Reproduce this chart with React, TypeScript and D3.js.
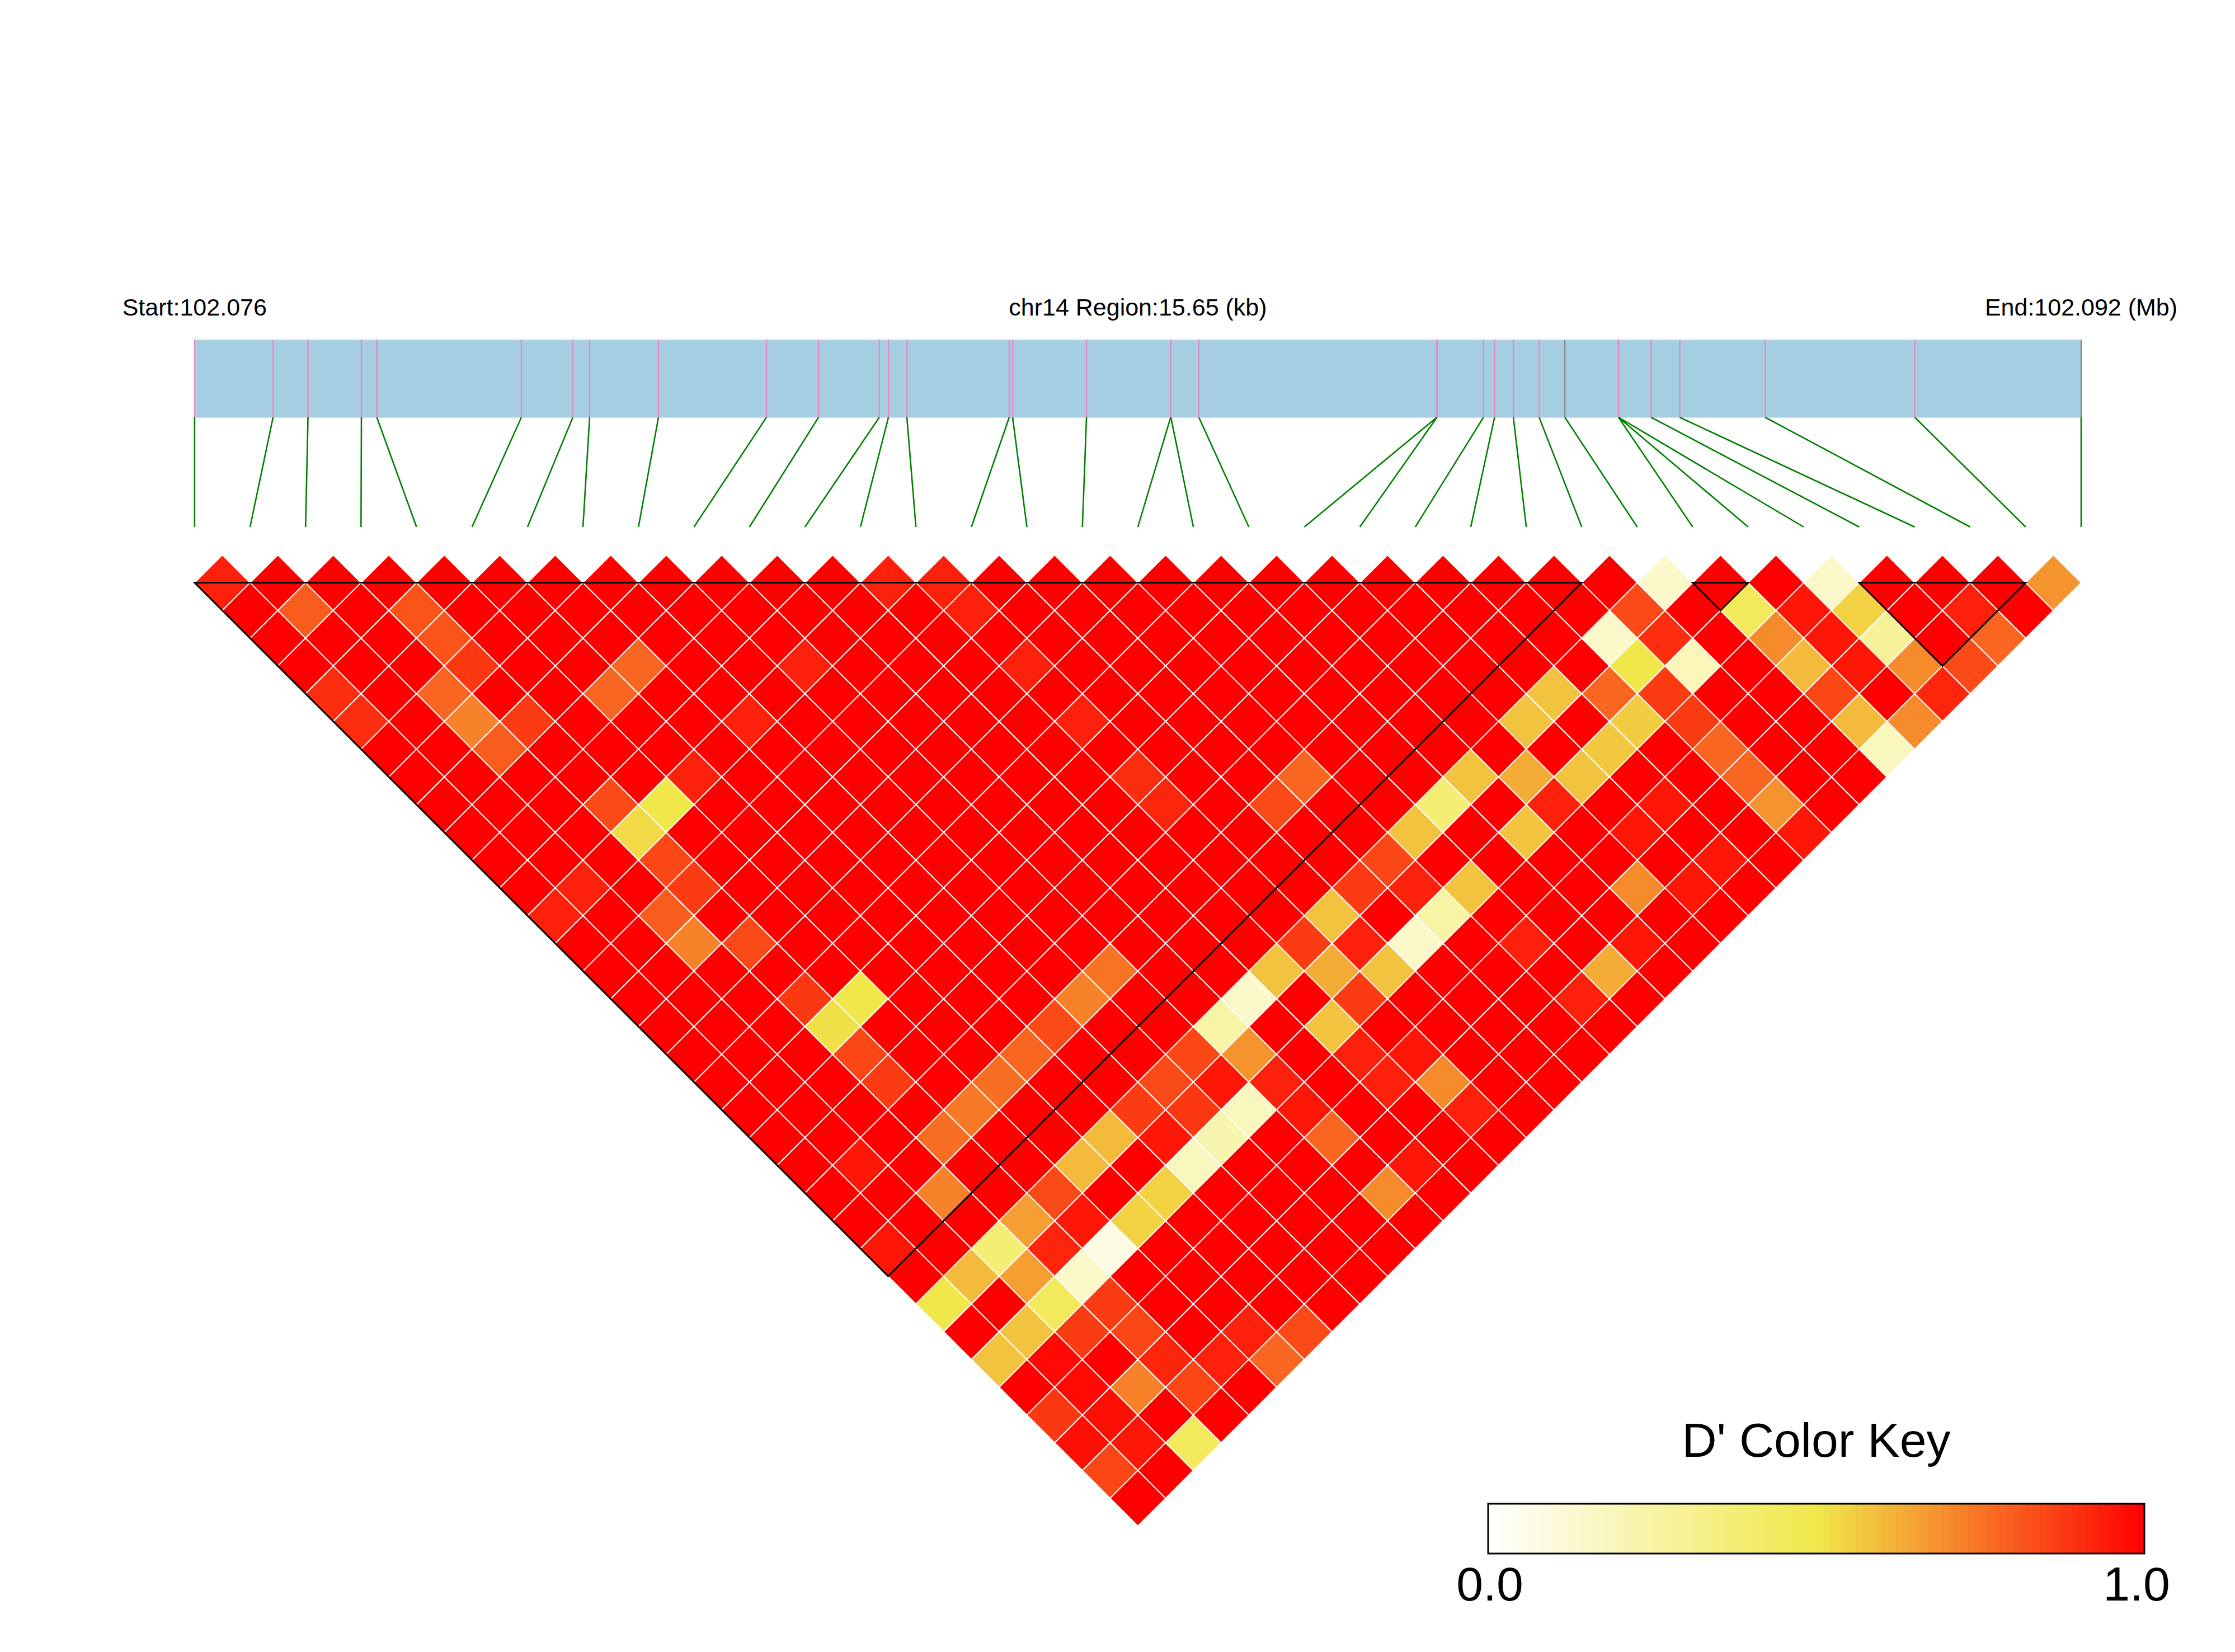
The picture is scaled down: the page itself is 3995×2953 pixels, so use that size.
import React from "react";
import * as d3 from "d3";

// ---- data ----
const chromosome = "chr14";
const regionStartBp = 102076000;
// SNP offsets (bp) from the region start
const snpOffsets = [
  0, 651, 941, 1384, 1512, 2711, 3138, 3277, 3848, 4744, 5176, 5680, 5756, 5909,
  6758, 6786, 7399, 8097, 8099, 8331, 10305, 10306, 10692, 10784, 10940, 11154,
  11367, 11812, 11812, 11813, 12083, 12320, 13029, 14270, 15650,
];
// SNP marks drawn in grey instead of pink
const greySnps = [26, 34];

// D' rows: row i holds D'(i, j) for j = i+1 .. 34
const dPrimeRows: number[][] = [
  [0.93, 1, 1, 1, 0.9, 0.9, 1, 1, 1, 1, 1, 1, 0.93, 1, 1, 1, 1, 1, 1, 1, 1, 1, 1, 1, 0.95, 1, 0.5, 1, 0.58, 1, 0.88, 0.97, 0.85, 1],
  [1, 0.8, 1, 1, 1, 1, 1, 1, 1, 1, 1, 0.93, 1, 1, 1, 1, 1, 1, 1, 1, 1, 0.95, 1, 1, 1, 0.6, 1, 0.58, 0.98, 0.98, 0.97, 0.95, 1],
  [1, 1, 1, 1, 0.78, 0.72, 0.8, 1, 1, 1, 1, 1, 0.8, 0.72, 1, 1, 1, 1, 1, 1, 1, 1, 0.72, 1, 0.38, 0.66, 0.45, 0.87, 1, 0.72, 1, 0.45],
  [1, 0.82, 0.82, 0.88, 1, 0.87, 1, 1, 0.84, 0.53, 0.85, 0.87, 1, 0.84, 1, 0.88, 0.52, 0.85, 0.87, 1, 0.76, 1, 1, 0.66, 0.92, 0.15, 0.87, 0.85, 0.92, 0.85, 1],
  [1, 1, 1, 1, 1, 1, 1, 1, 0.5, 1, 1, 1, 1, 1, 1, 0.5, 1, 1, 1, 0.74, 1, 1, 0.84, 0.95, 0.08, 1, 1, 1, 0.93, 1],
  [1, 1, 1, 1, 0.78, 1, 1, 0.93, 1, 1, 1, 1, 1, 1, 1, 1, 1, 1, 0.76, 1, 1, 0.6, 1, 0.55, 1, 1, 1, 0.93, 0.78],
  [1, 1, 1, 0.78, 1, 1, 1, 1, 1, 1, 1, 1, 1, 1, 1, 1, 1, 0.78, 1, 1, 0.6, 1, 0.55, 1, 1, 1, 1, 0.84],
  [1, 1, 1, 1, 1, 0.93, 1, 1, 1, 1, 1, 1, 1, 1, 1, 1, 0.84, 1, 1, 0.87, 0.95, 0.18, 1, 1, 1, 1, 1],
  [1, 1, 1, 1, 1, 1, 1, 1, 1, 1, 1, 1, 1, 1, 1, 0.72, 1, 1, 0.84, 0.88, 0.22, 1, 1, 1, 1, 1],
  [1, 1, 1, 0.93, 1, 1, 1, 1, 1, 1, 1, 1, 1, 1, 0.75, 1, 1, 0.85, 0.95, 0.18, 1, 1, 1, 1, 1],
  [1, 1, 1, 1, 1, 1, 1, 1, 1, 1, 1, 1, 1, 1, 1, 1, 0.25, 0.68, 0.93, 0.95, 0.78, 1, 0.7, 1],
  [1, 1, 1, 1, 1, 1, 1, 1, 1, 1, 1, 1, 1, 1, 1, 0.15, 1, 1, 1, 1, 1, 0.95, 1],
  [0.93, 1, 1, 1, 1, 1, 1, 1, 1, 1, 1, 1, 1, 1, 0.58, 1, 0.58, 0.93, 0.93, 1, 1, 1],
  [0.93, 0.93, 1, 0.93, 1, 0.93, 1, 0.9, 0.92, 1, 1, 1, 1, 0.87, 0.63, 0.87, 1, 0.95, 0.7, 0.93, 1],
  [1, 1, 1, 1, 1, 1, 1, 1, 1, 1, 1, 1, 0.58, 0.93, 0.58, 1, 1, 1, 1, 1],
  [1, 1, 1, 1, 1, 1, 1, 1, 0.84, 1, 1, 0.87, 1, 0.15, 1, 1, 1, 1, 1],
  [1, 1, 1, 1, 1, 1, 1, 0.78, 1, 1, 0.85, 0.93, 0.25, 1, 1, 1, 1, 1],
  [1, 1, 1, 1, 1, 1, 1, 1, 1, 0.58, 1, 0.58, 1, 0.93, 1, 0.93, 1],
  [1, 1, 1, 1, 1, 1, 1, 1, 0.38, 1, 1, 1, 1, 1, 0.63, 1],
  [1, 1, 1, 1, 1, 1, 1, 0.58, 1, 0.58, 1, 1, 1, 0.95, 1],
  [1, 1, 1, 1, 1, 1, 1, 0.63, 0.93, 1, 1, 0.7, 1, 1],
  [1, 1, 1, 1, 1, 0.58, 1, 0.58, 1, 0.95, 1, 0.95, 1],
  [1, 1, 1, 1, 0.58, 1, 0.57, 1, 0.95, 1, 0.95, 1],
  [1, 1, 1, 1, 0.78, 0.56, 1, 1, 1, 1, 1],
  [1, 1, 0.15, 0.5, 0.87, 0.87, 0.78, 0.78, 0.68, 0.95],
  [1, 0.84, 0.9, 0.2, 1, 1, 1, 1, 1],
  [0.15, 1, 1, 1, 1, 1, 1, 1],
  [1, 0.45, 0.7, 0.6, 0.85, 0.6, 0.18],
  [1, 0.95, 0.95, 0.95, 1, 0.7],
  [0.15, 0.55, 0.28, 0.7, 0.92],
  [1, 1, 1, 0.84],
  [1, 0.93, 0.78],
  [1, 1],
  [0.68],
];

// haplotype blocks (first SNP, last SNP)
const blocks: [number, number][] = [
  [0, 25],
  [27, 28],
  [30, 33],
];

const keyTitle = "D' Color Key";
const keyTickLabels = ["0.0", "1.0"];
const keyStops = [0, 0.5, 1];
const keyColors = ["#ffffff", "#f0e84a", "#ff0000"];

// ---- layout ----
const W = 3995;
const H = 2953;
const FONT = "'Liberation Sans', Arial, Helvetica, sans-serif";

export default function App() {
  const n = snpOffsets.length;
  const left = 347.8;
  const right = 3720;
  const barTop = 607.6;
  const barBottom = 746;
  const linkBottom = 942;
  const yTop = 1041.6;

  const positions = snpOffsets.map((o) => regionStartBp + o);
  const xGen = d3
    .scaleLinear()
    .domain([positions[0], positions[n - 1]])
    .range([left, right]);
  const xIdx = d3.scaleLinear().domain([0, n - 1]).range([left, right]);
  const hw = (xIdx(1) - xIdx(0)) / 2;

  const color = d3
    .scaleLinear<string>()
    .domain(keyStops)
    .range(keyColors)
    .interpolate(d3.interpolateRgb);

  const cells: { i: number; j: number; v: number }[] = [];
  dPrimeRows.forEach((row, i) => {
    row.forEach((v, k) => cells.push({ i, j: i + 1 + k, v }));
  });

  const diamond = (cx: number, cy: number) =>
    `M${cx},${cy - hw}L${cx + hw},${cy}L${cx},${cy + hw}L${cx - hw},${cy}Z`;

  const startMb = (positions[0] / 1e6).toFixed(3);
  const endMb = (positions[n - 1] / 1e6).toFixed(3);
  const regionKb = ((positions[n - 1] - positions[0]) / 1000).toFixed(2);

  // colour key
  const keyX0 = 2660;
  const keyX1 = 3833;
  const keyY0 = 2688;
  const keyY1 = 2777;
  const keyScale = d3.scaleLinear().domain([0, 1]).range([keyX0, keyX1]);
  const nBands = 100;
  const bands = d3.range(nBands).map((k) => k / nBands);

  return (
    <svg
      width={W}
      height={H}
      viewBox={`0 0 ${W} ${H}`}
      style={{ position: "absolute", left: 0, top: 0, background: "#fff" }}
      fontFamily={FONT}
    >
      <rect x={0} y={0} width={W} height={H} fill="#ffffff" />
      {/* header texts */}
      <text x={left} y={564} fontSize={43} textAnchor="middle">
        {`Start:${startMb}`}
      </text>
      <text x={(left + right) / 2} y={564} fontSize={43} textAnchor="middle">
        {`${chromosome} Region:${regionKb} (kb)`}
      </text>
      <text x={right} y={564} fontSize={43} textAnchor="middle">
        {`End:${endMb} (Mb)`}
      </text>

      {/* region bar */}
      <rect
        x={left}
        y={barTop}
        width={right - left}
        height={barBottom - barTop}
        fill="#a6cee3"
        stroke="#c4e0ee"
        strokeWidth={2}
      />
      {positions.map((p, k) => (
        <line
          key={`m${k}`}
          x1={xGen(p)}
          x2={xGen(p)}
          y1={barTop}
          y2={barBottom}
          stroke={greySnps.includes(k) ? "#8a8a8a" : "#e78ac3"}
          strokeWidth={2.5}
        />
      ))}
      {positions.map((p, k) => (
        <line
          key={`g${k}`}
          x1={xGen(p)}
          y1={barBottom}
          x2={xIdx(k)}
          y2={linkBottom}
          stroke="#008000"
          strokeWidth={2.6}
        />
      ))}

      {/* LD heatmap */}
      <g>
        {cells.map(({ i, j, v }) => {
          const cx = (xIdx(i) + xIdx(j)) / 2;
          const cy = yTop + (j - i - 1) * hw;
          return (
            <path
              key={`c${i}-${j}`}
              d={diamond(cx, cy)}
              fill={color(v)}
              stroke="#ffffff"
              strokeWidth={2}
            />
          );
        })}
      </g>
      {/* blocks */}
      {blocks.map(([a, b], k) => {
        const xa = xIdx(a);
        const xb = xIdx(b);
        return (
          <path
            key={`b${k}`}
            d={`M${xa},${yTop}L${xb},${yTop}L${(xa + xb) / 2},${yTop + (xb - xa) / 2}Z`}
            fill="none"
            stroke="#000000"
            strokeWidth={3}
            strokeLinejoin="miter"
          />
        );
      })}

      {/* colour key */}
      <text x={(keyX0 + keyX1) / 2} y={2604} fontSize={86} textAnchor="middle">
        {keyTitle}
      </text>
      {bands.map((b, k) => (
        <rect
          key={`k${k}`}
          x={keyScale(b)}
          y={keyY0}
          width={(keyX1 - keyX0) / nBands + 0.6}
          height={keyY1 - keyY0}
          fill={color(b + 0.5 / nBands)}
        />
      ))}
      <rect
        x={keyX0}
        y={keyY0}
        width={keyX1 - keyX0}
        height={keyY1 - keyY0}
        fill="none"
        stroke="#000"
        strokeWidth={3}
      />
      <text x={keyX0 + 3} y={2861} fontSize={86} textAnchor="middle">
        {keyTickLabels[0]}
      </text>
      <text x={keyX1 - 14} y={2861} fontSize={86} textAnchor="middle">
        {keyTickLabels[1]}
      </text>
    </svg>
  );
}
